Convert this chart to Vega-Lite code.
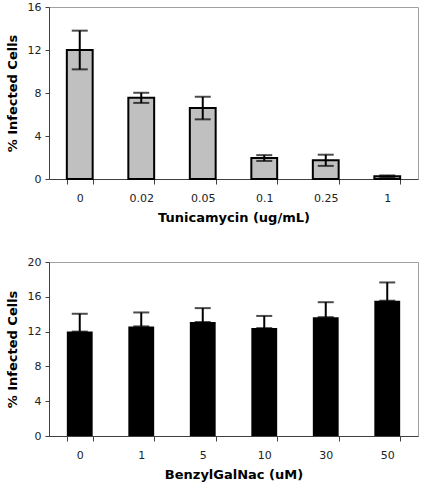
{
  "$schema": "https://vega.github.io/schema/vega-lite/v6.json",
  "padding": {"left": 5, "top": 0, "right": 4, "bottom": 5},
  "spacing": 30,
  "config": {
    "font": "DejaVu Sans",
    "view": {"stroke": "#a0a0a0", "strokeWidth": 1},
    "axis": {
      "labelFont": "DejaVu Sans", "labelFontSize": 11, "labelColor": "#222222",
      "titleFont": "DejaVu Sans", "titleFontSize": 13, "titleFontWeight": "bold", "titleColor": "#000000",
      "domainColor": "#404040", "tickColor": "#404040", "grid": false, "domainWidth": 1
    }
  },
  "datasets": {
    "tunic": [
      {"dose": "0", "value": 12.0, "lo": 10.2, "hi": 13.8},
      {"dose": "0.02", "value": 7.55, "lo": 7.08, "hi": 8.02},
      {"dose": "0.05", "value": 6.6, "lo": 5.55, "hi": 7.65},
      {"dose": "0.1", "value": 1.95, "lo": 1.68, "hi": 2.22},
      {"dose": "0.25", "value": 1.74, "lo": 1.22, "hi": 2.26},
      {"dose": "1", "value": 0.25, "lo": 0.17, "hi": 0.33}
    ],
    "benzyl": [
      {"dose": "0", "value": 12.0, "hi": 14.05},
      {"dose": "1", "value": 12.6, "hi": 14.2},
      {"dose": "5", "value": 13.1, "hi": 14.7},
      {"dose": "10", "value": 12.4, "hi": 13.8},
      {"dose": "30", "value": 13.66, "hi": 15.38},
      {"dose": "50", "value": 15.55, "hi": 17.65}
    ]
  },
  "vconcat": [
    {
      "width": 369, "height": 172,
      "data": {"name": "tunic"},
      "encoding": {
        "x": {"field": "dose", "type": "ordinal", "sort": null, "title": "Tunicamycin (ug/mL)",
              "scale": {"paddingInner": 0.58, "paddingOuter": 0.29},
              "axis": {"labelAngle": 0, "tickBand": "extent", "tickSize": 5, "labelPadding": 8, "titlePadding": 8}}
      },
      "layer": [
        {
          "mark": {"type": "bar", "color": "#c0c0c0", "stroke": "#000000", "strokeWidth": 2},
          "encoding": {
            "y": {"field": "value", "type": "quantitative", "title": "% Infected Cells",
                  "scale": {"domain": [0, 16]},
                  "axis": {"values": [0, 4, 8, 12, 16], "tickSize": 4, "labelPadding": 4, "titlePadding": 8}}
          }
        },
        {
          "mark": {"type": "errorbar", "ticks": {"size": 16, "thickness": 2, "color": "#000000"}, "rule": {"strokeWidth": 2, "color": "#000000"}},
          "encoding": {
            "y": {"field": "lo", "type": "quantitative", "title": "% Infected Cells"},
            "y2": {"field": "hi"}
          }
        }
      ]
    },
    {
      "width": 369, "height": 174,
      "data": {"name": "benzyl"},
      "encoding": {
        "x": {"field": "dose", "type": "ordinal", "sort": null, "title": "BenzylGalNac (uM)",
              "scale": {"paddingInner": 0.58, "paddingOuter": 0.29},
              "axis": {"labelAngle": 0, "tickBand": "extent", "tickSize": 5, "labelPadding": 8, "titlePadding": 8}},
        "y": {"type": "quantitative", "title": "% Infected Cells",
              "scale": {"domain": [0, 20]},
              "axis": {"values": [0, 4, 8, 12, 16, 20], "tickSize": 4, "labelPadding": 4, "titlePadding": 8}}
      },
      "layer": [
        {
          "mark": {"type": "errorbar", "ticks": {"size": 16, "thickness": 2, "color": "#000000"}, "rule": {"strokeWidth": 2, "color": "#000000"}},
          "encoding": {
            "y": {"field": "value", "type": "quantitative", "title": "% Infected Cells"},
            "y2": {"field": "hi"}
          }
        },
        {
          "mark": {"type": "bar", "color": "#000000"},
          "encoding": {
            "y": {"field": "value", "type": "quantitative", "title": "% Infected Cells"}
          }
        }
      ]
    }
  ]
}
